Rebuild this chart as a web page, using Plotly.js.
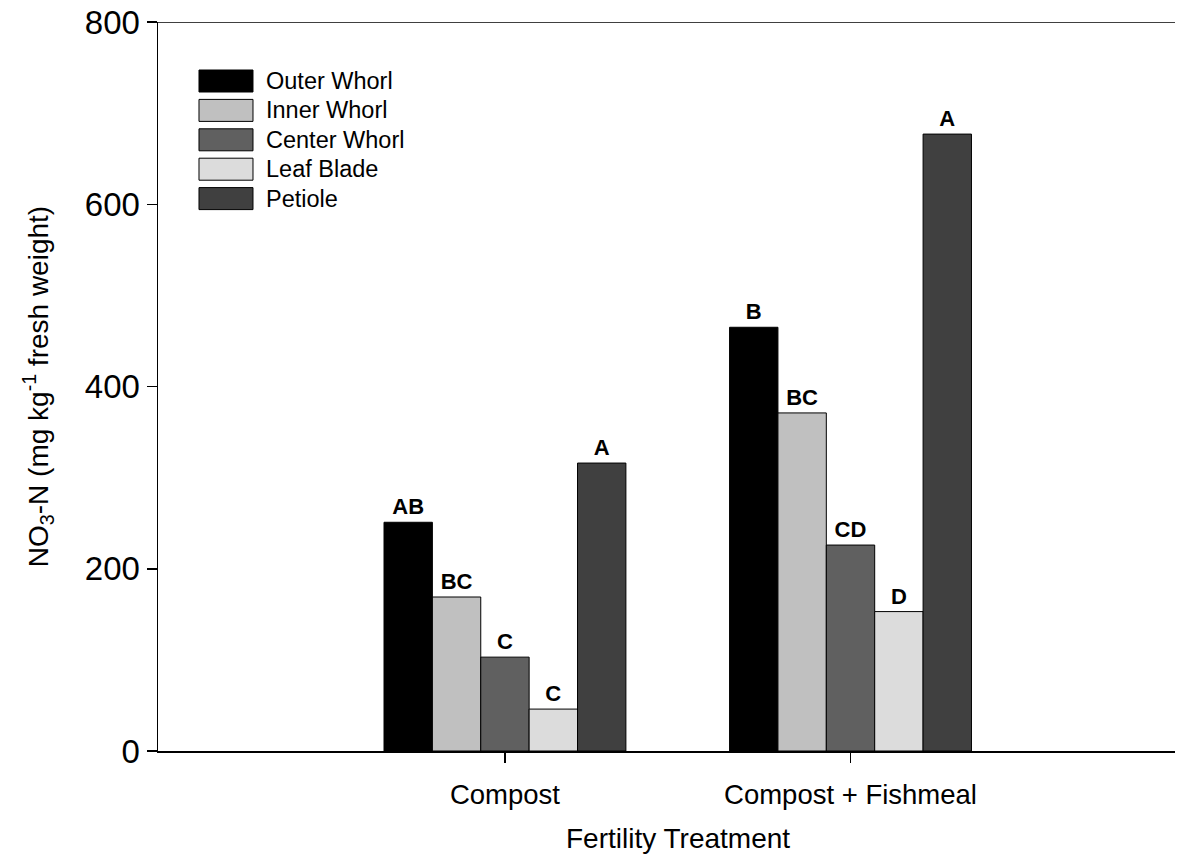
<!DOCTYPE html>
<html>
<head>
<meta charset="utf-8">
<script src="https://cdn.plot.ly/plotly-3.0.1.min.js"></script>
<style>
  html, body { margin: 0; padding: 0; background: #fff; }
  #chart { width: 1188px; height: 855px; }
</style>
</head>
<body>
<div id="chart"></div>
<script>
// ---- Data ----
const categories = ["Compost", "Compost + Fishmeal"];
const seriesNames = ["Outer Whorl", "Inner Whorl", "Center Whorl", "Leaf Blade", "Petiole"];
const outerWhorl  = [251, 465];
const innerWhorl  = [169, 371];
const centerWhorl = [103, 226];
const leafBlade   = [46, 153];
const petiole     = [316, 677];
const outerLetters  = ["AB", "B"];
const innerLetters  = ["BC", "BC"];
const centerLetters = ["C", "CD"];
const leafLetters   = ["C", "D"];
const petioleLetters = ["A", "A"];
const yTickValues = [0, 200, 400, 600, 800];
const xTitle = "Fertility Treatment";
const yTitle = "NO<sub>3</sub>-N (mg kg<sup>-1</sup> fresh weight)";

// ---- Styles ----
const colors = ["#000000", "#c0c0c0", "#606060", "#dcdcdc", "#404040"];
const FONT = "'Liberation Sans', Arial, Helvetica, sans-serif";

const values = [outerWhorl, innerWhorl, centerWhorl, leafBlade, petiole];
const letters = [outerLetters, innerLetters, centerLetters, leafLetters, petioleLetters];

const traces = seriesNames.map((name, i) => ({
  type: "bar",
  name: name,
  x: categories,
  y: values[i],
  text: letters[i],
  textposition: "outside",
  constraintext: "none",
  cliponaxis: false,
  textfont: { family: FONT, size: 22, color: "#000" },
  texttemplate: "<b>%{text}</b>",
  marker: { color: colors[i], line: { color: "#000", width: 1 } },
  showlegend: false,
  hoverinfo: "x+y+name"
}));

// custom legend (large swatches, like the reference)
const shapes = [];
const annotations = [];
const legX0 = 0.0403, legX1 = 0.0934; // paper coords of swatch
seriesNames.forEach((name, i) => {
  const yc = 1 - (81 + i * 29.4 - 22) / 729; // paper y of entry centre
  const h = 11 / 729;
  shapes.push({
    type: "rect", xref: "paper", yref: "paper",
    x0: legX0, x1: legX1, y0: yc - h, y1: yc + h,
    fillcolor: colors[i], line: { color: "#000", width: 1 }
  });
  annotations.push({
    xref: "paper", yref: "paper", x: 0.1042, y: yc,
    xanchor: "left", yanchor: "middle", showarrow: false,
    text: name, font: { family: FONT, size: 23.5, color: "#000" }
  });
});
// x axis title (slightly right of centre, as in the reference)
annotations.push({
  xref: "paper", yref: "paper", x: 0.511, y: -0.12,
  xanchor: "center", yanchor: "middle", showarrow: false,
  text: xTitle, font: { family: FONT, size: 28, color: "#000" }
});
// top frame line
shapes.push({
  type: "line", xref: "paper", yref: "y", x0: 0, x1: 1, y0: 800, y1: 800,
  line: { color: "#000", width: 1.5 }
});

const layout = {
  width: 1188,
  height: 855,
  margin: { l: 158, r: 13, t: 22, b: 104 },
  paper_bgcolor: "#fff",
  plot_bgcolor: "#fff",
  font: { family: FONT, color: "#000" },
  barmode: "group",
  bargap: 0.3,
  bargroupgap: 0,
  showlegend: false,
  xaxis: {
    type: "category",
    range: [-1.004, 1.939],
    showline: true, linecolor: "#000", linewidth: 1.8,
    ticks: "outside", ticklen: 10, tickwidth: 1.5, tickcolor: "#000",
    ticklabelstandoff: 8,
    showgrid: false, zeroline: false,
    tickfont: { family: FONT, size: 27.5, color: "#000" }
  },
  yaxis: {
    range: [0, 800],
    tickvals: yTickValues,
    showline: true, linecolor: "#000", linewidth: 1.5,
    ticks: "outside", ticklen: 10, tickwidth: 1.5, tickcolor: "#000",
    showgrid: false, zeroline: false,
    tickfont: { family: FONT, size: 33, color: "#000" },
    title: { text: yTitle, font: { family: FONT, size: 28, color: "#000" }, standoff: 28 }
  },
  shapes: shapes,
  annotations: annotations
};

Plotly.newPlot("chart", traces, layout, { displayModeBar: false, staticPlot: true });
</script>
</body>
</html>
